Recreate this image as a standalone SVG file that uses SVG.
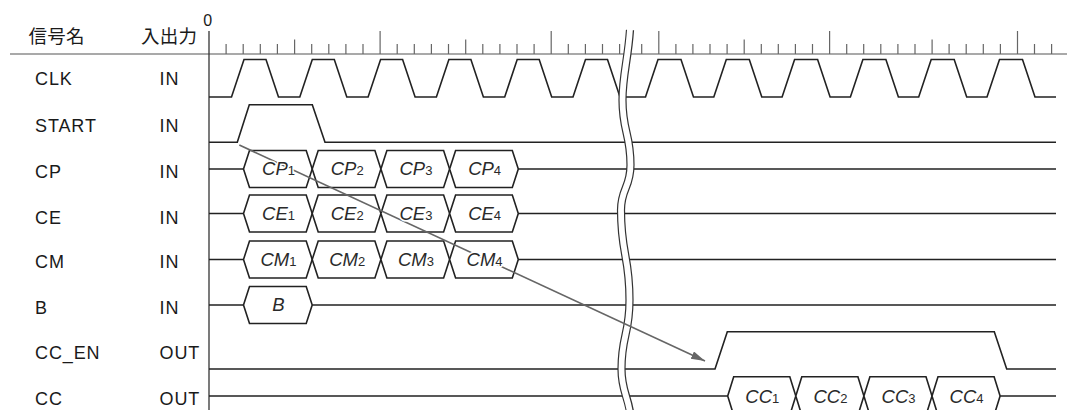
<svg xmlns="http://www.w3.org/2000/svg" xmlns:xlink="http://www.w3.org/1999/xlink" width="1076" height="410" viewBox="0 0 1076 410">
<style>
.hd{font-family:"Noto Sans CJK JP","Noto Sans CJK SC",sans-serif;font-size:18.5px;fill:#1a1a1a;letter-spacing:0.3px}
.lb{font-family:"Liberation Sans",Arial,sans-serif;font-size:18px;fill:#1a1a1a;letter-spacing:0.9px}
.bl{font-family:"Liberation Sans",Arial,sans-serif;font-size:18.5px;font-style:italic;fill:#2a2a2a;text-anchor:middle;stroke:#fff;stroke-width:3px;paint-order:stroke;stroke-linejoin:round}
.bl tspan{font-size:13px;font-style:normal}
.w{fill:none;stroke:#222;stroke-width:1.6;stroke-linejoin:miter}
.hx{fill:#fff;stroke:#222;stroke-width:1.6}
.tk{fill:none;stroke:#666;stroke-width:1.2}
.zero{font-family:"Liberation Sans",Arial,sans-serif;font-size:16px;fill:#1a1a1a;text-anchor:middle}
</style>
<defs>
<polygon id="hx" class="hx" points="0,0 6,-18.5 62.7,-18.5 68.7,0 62.7,18.5 6,18.5"/>
<polygon id="hx2" class="hx" points="0,0 6,-19.3 62.1,-19.3 68.1,0 62.1,19.3 6,19.3"/>
<marker id="ah" markerUnits="userSpaceOnUse" markerWidth="16" markerHeight="10" refX="14" refY="4" orient="auto">
<path d="M0,0 L14,4 L0,8 Z" fill="#666"/>
</marker>
</defs>
<rect width="1076" height="410" fill="#fff"/>

<g id="header">
<text class="hd" x="28.5" y="42.5">信号名</text>
<text class="hd" x="141" y="42.5">入出力</text>
<text class="zero" x="207.7" y="25.5">0</text>
<line x1="10" y1="54" x2="1067" y2="54" stroke="#555" stroke-width="1.2"/>
<line x1="209" y1="31" x2="209" y2="410" stroke="#333" stroke-width="1.3"/>
<path class="tk" d="M226.1,44V54M243.2,44V54M260.3,44V54M277.4,44V54M311.7,44V54M328.8,44V54M345.9,44V54M363,44V54M397.2,44V54M414.3,44V54M431.4,44V54M448.5,44V54M482.8,44V54M499.9,44V54M517,44V54M534.1,44V54M568.3,44V54M585.4,44V54M602.5,44V54M619.6,44V54M641.7,44V54M675.9,44V54M692.9,44V54M710,44V54M727.1,44V54M761.3,44V54M778.3,44V54M795.4,44V54M812.5,44V54M846.7,44V54M863.7,44V54M880.8,44V54M897.9,44V54M915,44V54M949.1,44V54M966.2,44V54M983.3,44V54M1000.4,44V54M1034.5,44V54M1051.6,44V54"/>
<path class="tk" d="M294.6,39.5V54M465.7,39.5V54M744.2,39.5V54M932.1,39.5V54"/>
<path class="tk" d="M380.1,31V54M551.2,31V54M658.8,31V54M829.6,31V54M1017.5,31V54"/>
</g>

<g id="clk">
<text class="lb" x="35" y="85">CLK</text>
<text class="lb" x="159.5" y="85">IN</text>
<path class="w" d="M209,97 L231.5,97 L244,59.5 L266,59.5 L278.5,97 L299.8,97 L312.3,59.5 L334.3,59.5 L346.8,97 L368.1,97 L380.6,59.5 L402.6,59.5 L415.1,97 L436.4,97 L448.9,59.5 L470.9,59.5 L483.4,97 L504.7,97 L517.2,59.5 L539.2,59.5 L551.7,97 L573,97 L585.5,59.5 L607.5,59.5 L620,97 L645.5,97 L658,59.5 L681,59.5 L693.5,97 L713.8,97 L726.3,59.5 L749.3,59.5 L761.8,97 L782.1,97 L794.6,59.5 L817.6,59.5 L830.1,97 L850.4,97 L862.9,59.5 L885.9,59.5 L898.4,97 L918.7,97 L931.2,59.5 L954.2,59.5 L966.7,97 L987,97 L999.5,59.5 L1022.5,59.5 L1035,97 L1056,97"/>
</g>

<g id="start">
<text class="lb" x="35" y="131.7">START</text>
<text class="lb" x="159.5" y="131.7">IN</text>
<path class="w" d="M209,142.3 L237.3,142.3 L249.3,104.7 L312.3,104.7 L325,142.3 L1056,142.3"/>
</g>

<g id="cp">
<text class="lb" x="35" y="178.3">CP</text>
<text class="lb" x="159.5" y="178.3">IN</text>
<path class="w" d="M209,169H243.5M518.3,169H1056"/>
<use xlink:href="#hx" x="243.5" y="169"/>
<use xlink:href="#hx" x="312.2" y="169"/>
<use xlink:href="#hx" x="380.9" y="169"/>
<use xlink:href="#hx" x="449.6" y="169"/>
</g>

<g id="ce">
<text class="lb" x="35" y="224">CE</text>
<text class="lb" x="159.5" y="224">IN</text>
<path class="w" d="M209,213.5H243.5M518.3,213.5H1056"/>
<use xlink:href="#hx" x="243.5" y="213.5"/>
<use xlink:href="#hx" x="312.2" y="213.5"/>
<use xlink:href="#hx" x="380.9" y="213.5"/>
<use xlink:href="#hx" x="449.6" y="213.5"/>
</g>

<g id="cm">
<text class="lb" x="35" y="268.3">CM</text>
<text class="lb" x="159.5" y="268.3">IN</text>
<path class="w" d="M209,259.5H243.5M518.3,259.5H1056"/>
<use xlink:href="#hx" x="243.5" y="259.5"/>
<use xlink:href="#hx" x="312.2" y="259.5"/>
<use xlink:href="#hx" x="380.9" y="259.5"/>
<use xlink:href="#hx" x="449.6" y="259.5"/>
</g>

<g id="b">
<text class="lb" x="35" y="314">B</text>
<text class="lb" x="159.5" y="314">IN</text>
<path class="w" d="M209,305H243.5M312.2,305H1056"/>
<use xlink:href="#hx" x="243.5" y="305"/>
</g>

<g id="cc_en">
<text class="lb" x="35" y="359.3">CC_EN</text>
<text class="lb" x="159.5" y="359.3">OUT</text>
<path class="w" d="M209,369H715L727.3,331.7H994.3L1006.7,369H1056"/>
</g>

<g id="cc">
<text class="lb" x="35" y="405">CC</text>
<text class="lb" x="159.5" y="405">OUT</text>
<path class="w" d="M209,396H727.7M1000.1,396H1056"/>
<use xlink:href="#hx2" x="727.7" y="396"/>
<use xlink:href="#hx2" x="795.8" y="396"/>
<use xlink:href="#hx2" x="863.9" y="396"/>
<use xlink:href="#hx2" x="932" y="396"/>
</g>

<g id="break">
<path d="M630,30 C628,60 622.5,75 622.5,100 C622.5,132 630.5,133 630.5,165 C630.5,188 621,188 621,210 C621,255 629.5,255 629.5,300 C629.5,335 621.5,335 621.5,369 C621.5,390 627.5,395 630,412" fill="none" stroke="#333" stroke-width="8.2"/>
<path d="M630,29 C628,60 622.5,75 622.5,100 C622.5,132 630.5,133 630.5,165 C630.5,188 621,188 621,210 C621,255 629.5,255 629.5,300 C629.5,335 621.5,335 621.5,369 C621.5,390 627.5,395 630,413" fill="none" stroke="#fff" stroke-width="5.8"/>
</g>

<g id="connectors">
<line x1="239.3" y1="145" x2="705" y2="361" stroke="#666" stroke-width="1.6" marker-end="url(#ah)"/>
</g>

<g id="bus-labels">
<text class="bl" x="278.5" y="175">CP<tspan>1</tspan></text>
<text class="bl" x="347.2" y="175">CP<tspan>2</tspan></text>
<text class="bl" x="415.9" y="175">CP<tspan>3</tspan></text>
<text class="bl" x="484.6" y="175">CP<tspan>4</tspan></text>
<text class="bl" x="278.5" y="219.5">CE<tspan>1</tspan></text>
<text class="bl" x="347.2" y="219.5">CE<tspan>2</tspan></text>
<text class="bl" x="415.9" y="219.5">CE<tspan>3</tspan></text>
<text class="bl" x="484.6" y="219.5">CE<tspan>4</tspan></text>
<text class="bl" x="278.5" y="265.5">CM<tspan>1</tspan></text>
<text class="bl" x="347.2" y="265.5">CM<tspan>2</tspan></text>
<text class="bl" x="415.9" y="265.5">CM<tspan>3</tspan></text>
<text class="bl" x="484.6" y="265.5">CM<tspan>4</tspan></text>
<text class="bl" x="278.5" y="311">B</text>
<text class="bl" x="762.3" y="402.5">CC<tspan>1</tspan></text>
<text class="bl" x="830.4" y="402.5">CC<tspan>2</tspan></text>
<text class="bl" x="898.5" y="402.5">CC<tspan>3</tspan></text>
<text class="bl" x="966.6" y="402.5">CC<tspan>4</tspan></text>
</g>
</svg>
